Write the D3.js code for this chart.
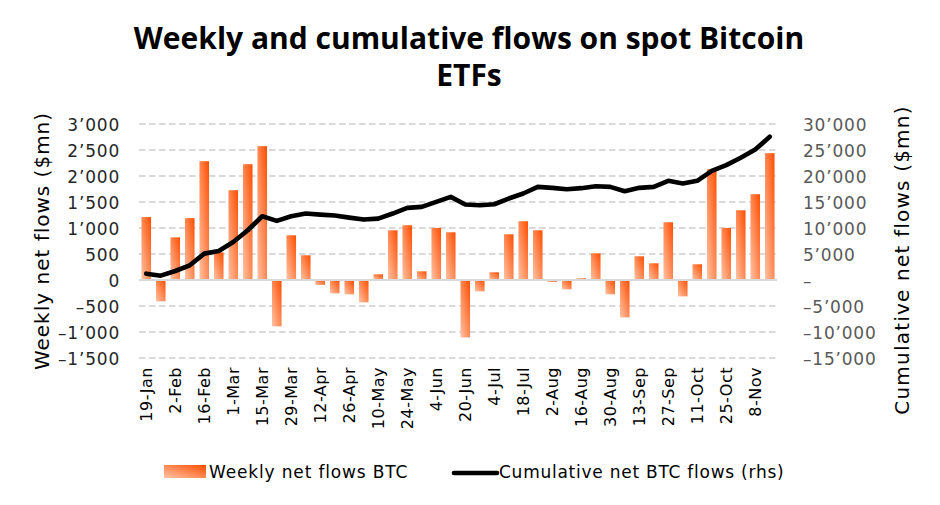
<!DOCTYPE html>
<html>
<head>
<meta charset="utf-8">
<script src="https://cdn.jsdelivr.net/npm/d3@7"></script>
<style>
  html, body { margin: 0; padding: 0; background: #fff; }
  svg { display: block; }
  text { font-family: "DejaVu Sans", "Open Sans", sans-serif; }
  .title { font-family: "Open Sans", "Noto Sans", sans-serif; }
</style>
</head>
<body>
<svg id="chart" width="940" height="505"></svg>
<script>
// ---------------- DATA ----------------
const categories = [
  "19-Jan","26-Jan","2-Feb","9-Feb","16-Feb","23-Feb","1-Mar","8-Mar","15-Mar","22-Mar",
  "29-Mar","5-Apr","12-Apr","19-Apr","26-Apr","3-May","10-May","17-May","24-May","31-May",
  "4-Jun","12-Jun","20-Jun","27-Jun","4-Jul","11-Jul","18-Jul","25-Jul","2-Aug","9-Aug",
  "16-Aug","23-Aug","30-Aug","6-Sep","13-Sep","20-Sep","27-Sep","4-Oct","11-Oct","18-Oct",
  "25-Oct","1-Nov","8-Nov","15-Nov"
];
const shownLabels = [
  "19-Jan","2-Feb","16-Feb","1-Mar","15-Mar","29-Mar","12-Apr","26-Apr","10-May","24-May",
  "4-Jun","20-Jun","4-Jul","18-Jul","2-Aug","16-Aug","30-Aug","13-Sep","27-Sep","11-Oct",
  "25-Oct","8-Nov"
];
const weeklyFlows = [
  1210, -410, 820, 1190, 2285, 530, 1727, 2227, 2574, -892,
  860, 475, -96, -257, -276, -430, 109, 956, 1053, 167,
  1001, 918, -1104, -218, 148, 879, 1130, 956, -40, -180,
  32, 513, -276, -719, 456, 321, 1110, -315, 302, 2131,
  1001, 1341, 1650, 2439
];
const cumulativeFlows = [
  1220, 835, 1730, 2830, 5070, 5590, 7320, 9570, 12260, 11360,
  12260, 12780, 12580, 12390, 12000, 11620, 11810, 12780, 13870, 14060,
  15020, 15990, 14510, 14380, 14570, 15670, 16630, 17910, 17720, 17460,
  17660, 18040, 17910, 17080, 17720, 17910, 19070, 18550, 19070, 20990,
  22090, 23500, 25100, 27540
];
const leftTicks = [-1500, -1000, -500, 0, 500, 1000, 1500, 2000, 2500, 3000];
const rightTicks = [-15000, -10000, -5000, 0, 5000, 10000, 15000, 20000, 25000, 30000];

// ---------------- CHART ----------------
const svg = d3.select("#chart");
const plot = { left: 139, right: 777, top: 124, bottom: 358 };

const x = d3.scaleBand()
  .domain(categories)
  .range([plot.left, plot.right])
  .paddingInner(0.34)
  .paddingOuter(0.17);

const yL = d3.scaleLinear().domain([-1500, 3000]).range([plot.bottom, plot.top]);
const yR = d3.scaleLinear().domain([-15000, 30000]).range([plot.bottom, plot.top]);

const loc = d3.formatLocale({ decimal: ".", thousands: "\u2019", grouping: [3], currency: ["", ""], minus: "\u2013" });
const fmt = loc.format(",d");
const fmtR = d => d === 0 ? "\u2013" : fmt(d);

// gradient
const defs = svg.append("defs");
const grad = defs.append("linearGradient")
  .attr("id", "barGrad")
  .attr("x1", 0).attr("y1", 1).attr("x2", 1).attr("y2", 0);
grad.append("stop").attr("offset", "0%").attr("stop-color", "#FFC3A6");
grad.append("stop").attr("offset", "100%").attr("stop-color", "#FF4E00");

// gridlines
svg.append("g")
  .selectAll("line")
  .data(leftTicks.filter(d => d !== 0))
  .join("line")
  .attr("x1", plot.left).attr("x2", plot.right)
  .attr("y1", d => yL(d)).attr("y2", d => yL(d))
  .attr("stroke", "#D9D9D9")
  .attr("stroke-width", 2)
  .attr("stroke-dasharray", "6.5,3.5");

// bars
svg.append("g")
  .selectAll("rect")
  .data(weeklyFlows)
  .join("rect")
  .attr("x", (d, i) => x(categories[i]))
  .attr("width", x.bandwidth())
  .attr("y", d => d >= 0 ? yL(d) : yL(0))
  .attr("height", d => Math.abs(yL(d) - yL(0)))
  .attr("fill", "url(#barGrad)");

// zero line
svg.append("line")
  .attr("x1", plot.left).attr("x2", plot.right)
  .attr("y1", yL(0)).attr("y2", yL(0))
  .attr("stroke", "#D9D9D9")
  .attr("stroke-width", 2);

// cumulative line
const line = d3.line()
  .x((d, i) => x(categories[i]) + x.bandwidth() / 2)
  .y(d => yR(d));
svg.append("path")
  .datum(cumulativeFlows)
  .attr("d", line)
  .attr("fill", "none")
  .attr("stroke", "#000")
  .attr("stroke-width", 4.6)
  .attr("stroke-linejoin", "round")
  .attr("stroke-linecap", "round");

// left axis
const axL = d3.axisLeft(yL).tickValues(leftTicks).tickFormat(fmt).tickSize(0).tickPadding(0);
const gL = svg.append("g").attr("transform", `translate(120,0)`).call(axL);
gL.select(".domain").remove();
gL.selectAll("text").attr("font-size", 17).attr("letter-spacing", 0.8)
  .attr("fill", "#262626").attr("dy", "0.36em");

// right axis
const axR = d3.axisRight(yR).tickValues(rightTicks).tickFormat(fmtR).tickSize(0).tickPadding(0);
const gR = svg.append("g").attr("transform", `translate(803,0)`).call(axR);
gR.select(".domain").remove();
gR.selectAll("text").attr("font-size", 17).attr("letter-spacing", 0.8)
  .attr("fill", "#595959").attr("dy", "0.36em");

// x axis labels
svg.append("g")
  .selectAll("text")
  .data(shownLabels)
  .join("text")
  .attr("transform", d => `translate(${x(d) + x.bandwidth() / 2 + 6},367) rotate(-90)`)
  .attr("text-anchor", "end")
  .attr("font-size", 16)
  .attr("letter-spacing", 0.5)
  .attr("fill", "#000")
  .text(d => d);

// axis titles
svg.append("text")
  .attr("transform", "translate(49,241) rotate(-90)")
  .attr("text-anchor", "middle")
  .attr("font-size", 20)
  .attr("letter-spacing", 1.0)
  .attr("fill", "#000")
  .text("Weekly net flows ($mn)");
svg.append("text")
  .attr("transform", "translate(909,260) rotate(-90)")
  .attr("text-anchor", "middle")
  .attr("font-size", 20)
  .attr("letter-spacing", 1.2)
  .attr("fill", "#000")
  .text("Cumulative net flows ($mn)");

// title
const title = svg.append("text")
  .attr("class", "title")
  .attr("text-anchor", "middle")
  .attr("font-size", 30)
  .attr("font-weight", "bold")
  .attr("fill", "#000");
title.append("tspan").attr("x", 469).attr("y", 49).text("Weekly and cumulative flows on spot Bitcoin");
title.append("tspan").attr("x", 469).attr("y", 86).text("ETFs");

// legend
const lg = svg.append("g");
lg.append("rect")
  .attr("x", 164).attr("y", 465).attr("width", 42).attr("height", 13)
  .attr("fill", "url(#barGrad)");
lg.append("text")
  .attr("x", 209).attr("y", 472).attr("dy", "0.36em")
  .attr("font-size", 17).attr("letter-spacing", 0.85).attr("fill", "#000")
  .text("Weekly net flows BTC");
lg.append("line")
  .attr("x1", 454).attr("x2", 497).attr("y1", 473).attr("y2", 473)
  .attr("stroke", "#000").attr("stroke-width", 4.6).attr("stroke-linecap", "round");
lg.append("text")
  .attr("x", 499).attr("y", 472).attr("dy", "0.36em")
  .attr("font-size", 17).attr("letter-spacing", 0.75).attr("fill", "#000")
  .text("Cumulative net BTC flows (rhs)");
</script>
</body>
</html>
